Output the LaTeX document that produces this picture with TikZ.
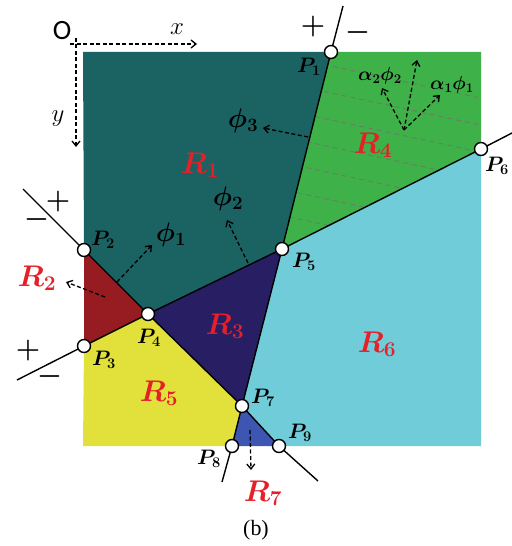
\RequirePackage{fix-cm}
\documentclass[tikz,border=0pt]{standalone}
\usepackage{amsmath,bm}
\usepackage{fontspec}
\newfontfamily\capfont{Liberation Serif}
\newfontfamily\ofont{Carlito}
\usetikzlibrary{arrows.meta}
\definecolor{cRa}{RGB}{27,98,99}
\definecolor{cRb}{RGB}{150,28,33}
\definecolor{cRc}{RGB}{40,30,100}
\definecolor{cRd}{RGB}{62,178,72}
\definecolor{cRe}{RGB}{226,224,58}
\definecolor{cRf}{RGB}{112,204,216}
\definecolor{cRg}{RGB}{60,86,178}
\definecolor{labred}{RGB}{228,32,40}
\definecolor{hatch}{RGB}{105,125,105}
\begin{document}
\begin{tikzpicture}[x=1bp,y=-1bp,
  bound/.style={line width=1.4bp,line join=round},
  pnt/.style={circle,draw,fill=white,line width=1.4bp,minimum size=13bp,inner sep=0pt},
  darr/.style={dashed,dash pattern=on 4bp off 2.5bp,line width=1.3bp,-{Straight Barb[length=5bp,width=8bp]}},
  rlab/.style={text=labred,font=\fontsize{30}{30}\selectfont\boldmath},
  plab/.style={font=\fontsize{21}{21}\selectfont\boldmath},
  philab/.style={font=\fontsize{27}{27}\selectfont\boldmath},
  alab/.style={font=\fontsize{19}{19}\selectfont\boldmath},
  sgn/.style={font=\fontsize{28}{28}\selectfont\boldmath},
  axlab/.style={font=\fontsize{25}{25}\selectfont}]
\useasboundingbox (0,0) rectangle (512,546);
% corners and points
\coordinate (TL) at (83,52);
\coordinate (TR) at (481,52);
\coordinate (BR) at (481,446);
\coordinate (BL) at (83,446);
\coordinate (P1) at (331,52);
\coordinate (P2) at (84,250);
\coordinate (P3) at (84,346);
\coordinate (P4) at (148,314);
\coordinate (P5) at (282,249);
\coordinate (P6) at (481,149);
\coordinate (P7) at (242,406);
\coordinate (P8) at (232,446);
\coordinate (P9) at (279,446);
\coordinate (E1) at (343,6);
\coordinate (E2) at (23,189);
\coordinate (E3) at (17,380);
\coordinate (E6) at (512,133);
\coordinate (E8) at (222,482);
\coordinate (E9) at (318,481);
% regions
\fill[cRa] (TL)--(P1)--(P5)--(P4)--(P2)--cycle;
\fill[cRb] (P2)--(P4)--(P3)--cycle;
\fill[cRc] (P4)--(P5)--(P7)--cycle;
\fill[cRd] (P1)--(TR)--(P6)--(P5)--cycle;
\fill[cRe] (P3)--(P4)--(P7)--(P8)--(BL)--cycle;
\fill[cRf] (P5)--(P6)--(BR)--(P9)--(P7)--cycle;
\fill[cRg] (P7)--(P9)--(P8)--cycle;
% hatch lines in R4
\begin{scope}
  \clip (P1)--(TR)--(P6)--(P5)--cycle;
  \foreach \yy in {55,82,109,136,162,189,215}
    \draw[hatch,line width=0.9bp,dash pattern=on 5bp off 4bp] (280,\yy) -- (482,\yy+43.4);
\end{scope}
% boundary lines
\draw[bound] (E1)--(P1)--(P5)--(P7)--(P8)--(E8);
\draw[bound] (E2)--(P2)--(P4)--(P7)--(P9)--(E9);
\draw[bound] (E3)--(P3)--(P4)--(P5)--(P6)--(E6);
% point markers
\foreach \p in {1,...,9} \node[pnt] (n\p) at (P\p) {};
% point labels
\node[plab] at (309,67) {$P_{1}$};
\node[plab] at (103,240) {$P_{2}$};
\node[plab] at (104,360) {$P_{3}$};
\node[plab] at (149,338) {$P_{4}$};
\node[plab] at (304,262) {$P_{5}$};
\node[plab] at (497,166) {$P_{6}$};
\node[plab] at (263,398) {$P_{7}$};
\node[plab] at (209,459) {$P_{8}$};
\node[plab] at (300,433) {$P_{9}$};
% region labels
\node[rlab] at (200,165) {$R_{1}$};
\node[rlab] at (37,278) {$R_{2}$};
\node[rlab] at (225,326) {$R_{3}$};
\node[rlab] at (373,145) {$R_{4}$};
\node[rlab] at (159,393) {$R_{5}$};
\node[rlab] at (377,344) {$R_{6}$};
\node[rlab] at (263,493) {$R_{7}$};
% signs
\node[sgn] at (313,27) {$+$};
\node[sgn] at (358,33) {$-$};
\node[sgn] at (58,202) {$+$};
\node[sgn] at (37,220) {$-$};
\node[sgn] at (28,351) {$+$};
\node[sgn] at (50,377) {$-$};
% axes
\coordinate (O) at (76,44);
\coordinate (xe) at (197,44);
\coordinate (ye) at (76,147);
\coordinate (xs) at (70,44);
\coordinate (ys) at (76,38);
\draw[darr] (xs) -- (xe);
\draw[darr] (ys) -- (ye);
\node[font=\fontsize{28}{28}\selectfont\ofont] (olab) at (62,31) {O};
\node[axlab] (xlab) at (177,29) {$x$};
\node[axlab] (ylab) at (58,119) {$y$};
% normal arrows
\coordinate (a1s) at (308,137); \coordinate (a1e) at (263,128);
\coordinate (a2s) at (248,263); \coordinate (a2e) at (227,220);
\coordinate (a3s) at (117,282); \coordinate (a3e) at (152,245);
\coordinate (a4s) at (105,297); \coordinate (a4e) at (66,282);
\coordinate (a5s) at (250,430); \coordinate (a5e) at (251,470);
\draw[darr] (a1s) -- (a1e);
\draw[darr] (a2s) -- (a2e);
\draw[darr] (a3s) -- (a3e);
\draw[darr] (a4s) -- (a4e);
\draw[darr] (a5s) -- (a5e);
\node[philab] at (243,121) {$\bm{\phi}_{3}$};
\node[philab] at (228,199) {$\bm{\phi}_{2}$};
\node[philab] at (171,235) {$\bm{\phi}_{1}$};
% R4 combination arrows
\coordinate (c0) at (404,130);
\coordinate (c1) at (382,88);
\coordinate (c2) at (417,60);
\coordinate (c3) at (440,95);
\draw[darr] (c0) -- (c1);
\draw[darr] (c0) -- (c2);
\draw[darr] (c0) -- (c3);
\node[alab] at (380,76) {$\bm{\alpha}_{2}\bm{\phi}_{2}$};
\node[alab] at (452,85) {$\bm{\alpha}_{1}\bm{\phi}_{1}$};
% caption
\node[font=\fontsize{22}{22}\selectfont\capfont] (cap) at (256,530) {(b)};
\end{tikzpicture}
\end{document}
